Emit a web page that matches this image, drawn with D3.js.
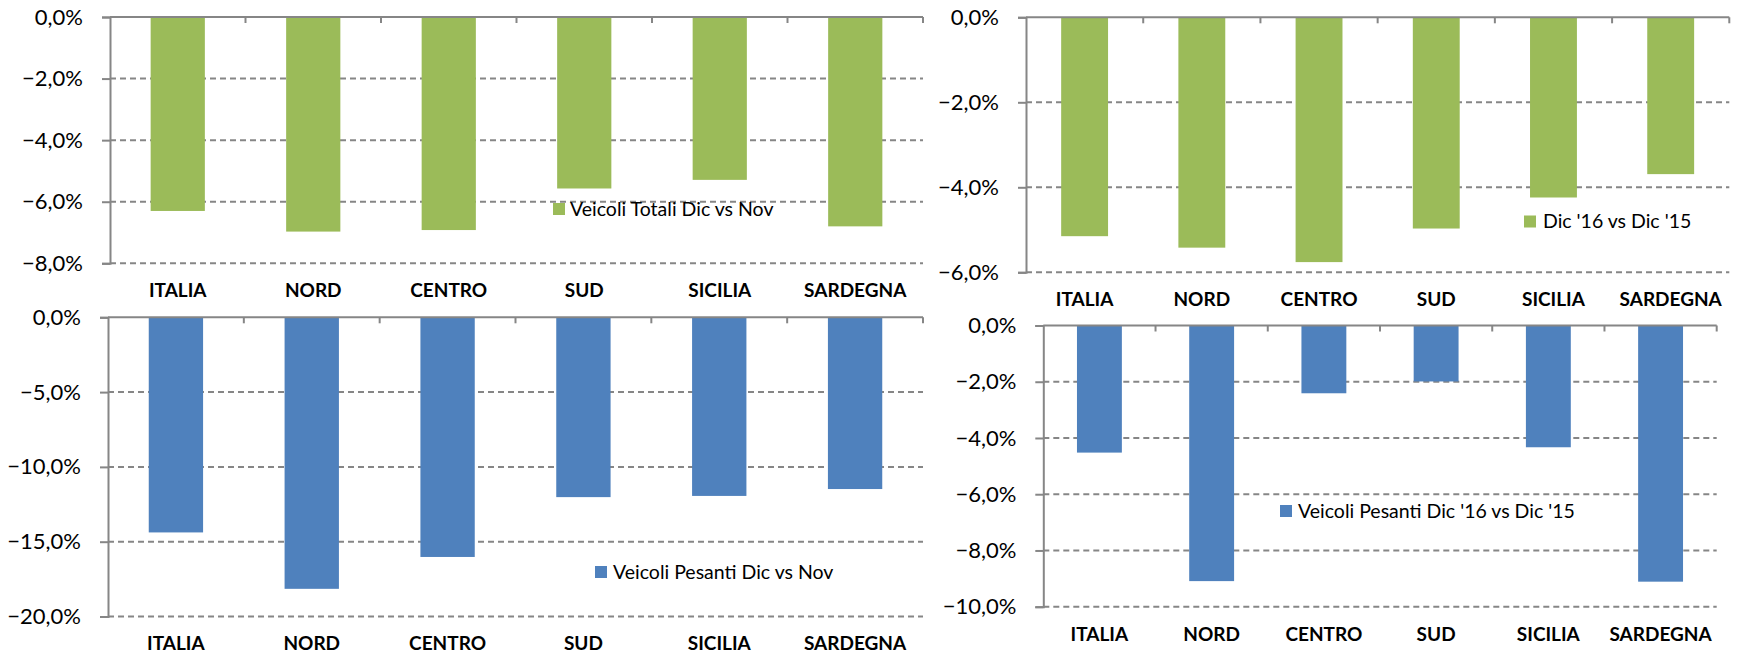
<!DOCTYPE html>
<html>
<head>
<meta charset="utf-8">
<script src="https://cdn.jsdelivr.net/npm/d3@7/dist/d3.min.js"></script>
<style>
  html, body { margin: 0; padding: 0; background: #fff; }
  svg { display: block; }
  text { font-family: Lato, "Open Sans", sans-serif; }
</style>
</head>
<body>
<svg id="chart" width="1737" height="653"></svg>
<script>
// ---------- DATA ----------
const categories = ["ITALIA", "NORD", "CENTRO", "SUD", "SICILIA", "SARDEGNA"];
const totaliDicNov      = [-6.30, -6.97, -6.92, -5.57, -5.29, -6.80];
const totaliDic16Dic15  = [-5.15, -5.42, -5.76, -4.97, -4.24, -3.69];
const pesantiDicNov     = [-14.38, -18.15, -16.02, -12.02, -11.94, -11.48];
const pesantiDic16Dic15 = [-4.52, -9.09, -2.41, -1.99, -4.33, -9.11];

const ticksTotaliDicNov      = [0, -2, -4, -6, -8];
const ticksTotaliDic16Dic15  = [0, -2, -4, -6];
const ticksPesantiDicNov     = [0, -5, -10, -15, -20];
const ticksPesantiDic16Dic15 = [0, -2, -4, -6, -8, -10];

const legendTotaliDicNov      = "Veicoli Totali Dic vs Nov";
const legendTotaliDic16Dic15  = "Dic '16 vs Dic '15";
const legendPesantiDicNov     = "Veicoli Pesanti Dic vs Nov";
const legendPesantiDic16Dic15 = "Veicoli Pesanti Dic '16 vs Dic '15";

// ---------- STYLE ----------
const GREEN = "#9BBB59";
const BLUE = "#4F81BD";
const AXIS = "#868686";

const itLocale = d3.formatLocale({decimal: ",", thousands: ".", grouping: [3], currency: ["", "€"]});
const fmt = v => itLocale.format(".1f")(v) + "%";

const svg = d3.select("#chart");

const panels = [
  {values: totaliDicNov, ticks: ticksTotaliDicNov, legend: legendTotaliDicNov, color: GREEN,
   left: 110, right: 923, top: 17, bottom: 263.3, catY: 296.7, lg: {x: 553, y: 203, tx: 570, ty: 215.5}},
  {values: totaliDic16Dic15, ticks: ticksTotaliDic16Dic15, legend: legendTotaliDic16Dic15, color: GREEN,
   left: 1026, right: 1729.3, top: 17.3, bottom: 272.3, catY: 305.7, lg: {x: 1524, y: 215.5, tx: 1543, ty: 228}},
  {values: pesantiDicNov, ticks: ticksPesantiDicNov, legend: legendPesantiDicNov, color: BLUE,
   left: 108, right: 923, top: 317.3, bottom: 616.5, catY: 649.5, lg: {x: 595, y: 566, tx: 613, ty: 578.5}},
  {values: pesantiDic16Dic15, ticks: ticksPesantiDic16Dic15, legend: legendPesantiDic16Dic15, color: BLUE,
   left: 1043.3, right: 1716.7, top: 325.5, bottom: 606.7, catY: 641, lg: {x: 1280, y: 505, tx: 1298, ty: 517.5}}
];

panels.forEach(p => {
  const g = svg.append("g");
  const x = d3.scaleBand().domain(categories).range([p.left, p.right]).paddingInner(0.6).paddingOuter(0.3);
  const xb = d3.scaleBand().domain(categories).range([p.left, p.right]);
  const y = d3.scaleLinear().domain([d3.min(p.ticks), 0]).range([p.bottom, p.top]);

  // gridlines (dashed) for non-zero ticks
  g.append("g").selectAll("line").data(p.ticks.filter(t => t !== 0)).join("line")
    .attr("x1", p.left).attr("x2", p.right)
    .attr("y1", d => y(d)).attr("y2", d => y(d))
    .attr("stroke", AXIS).attr("stroke-width", 2).attr("stroke-dasharray", "6,4");

  // bars
  g.append("g").selectAll("rect").data(p.values).join("rect")
    .attr("x", (d, i) => x(categories[i]))
    .attr("width", x.bandwidth())
    .attr("y", y(0))
    .attr("height", d => y(d) - y(0))
    .attr("fill", p.color);

  // y axis
  const yAxis = d3.axisLeft(y).tickValues(p.ticks).tickSize(8).tickPadding(19).tickFormat(fmt);
  const ya = g.append("g").attr("transform", `translate(${p.left},0)`).call(yAxis);
  ya.select(".domain").attr("stroke", AXIS).attr("stroke-width", 2);
  ya.selectAll(".tick line").attr("stroke", AXIS).attr("stroke-width", 2);
  ya.selectAll(".tick text").attr("font-size", 22).attr("fill", "#000")
    .attr("font-family", "Lato, 'Open Sans', sans-serif");

  // zero axis with category boundary ticks
  g.append("line").attr("x1", p.left).attr("x2", p.right).attr("y1", y(0)).attr("y2", y(0))
    .attr("stroke", AXIS).attr("stroke-width", 2);
  const bounds = categories.map(c => xb(c) + xb.bandwidth());
  g.append("g").selectAll("line").data(bounds).join("line")
    .attr("x1", d => d).attr("x2", d => d).attr("y1", y(0)).attr("y2", y(0) + 6)
    .attr("stroke", AXIS).attr("stroke-width", 2);

  // category labels
  g.append("g").selectAll("text").data(categories).join("text")
    .attr("x", d => xb(d) + xb.bandwidth() / 2)
    .attr("y", p.catY)
    .attr("text-anchor", "middle")
    .attr("font-size", 19).attr("font-weight", "bold").attr("fill", "#000")
    .text(d => d);

  // legend
  g.append("rect").attr("x", p.lg.x).attr("y", p.lg.y).attr("width", 12).attr("height", 12).attr("fill", p.color);
  g.append("text").attr("x", p.lg.tx).attr("y", p.lg.ty).attr("font-size", 19.5).attr("fill", "#000").text(p.legend);
});
</script>
</body>
</html>
